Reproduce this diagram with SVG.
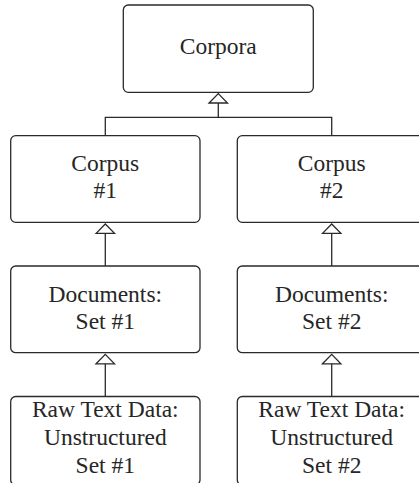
<svg xmlns="http://www.w3.org/2000/svg" width="419" height="483" viewBox="0 0 419 483">
  <defs>
    <style>
      .box { fill: #ffffff; stroke: #2a2a2a; stroke-width: 1.3; }
      .wire { fill: none; stroke: #2a2a2a; stroke-width: 1.3; }
    </style>
    <marker id="open-tri" markerUnits="userSpaceOnUse" viewBox="-1 -11 12 22" refX="9.4" refY="0" markerWidth="12" markerHeight="22" orient="auto" overflow="visible">
      <path d="M0,-9.2 L9.4,0 L0,9.2 Z" fill="#ffffff" stroke="#2a2a2a" stroke-width="1.3" stroke-linejoin="miter"/>
    </marker>
  </defs>

  <rect width="419" height="483" fill="#ffffff"/>

  <g id="connectors">
    <path class="wire" d="M105.3 135.7 V117.3 H331.7 V135.7"/>
    <path class="wire" d="M218.3 117.3 V93.6" marker-end="url(#open-tri)"/>
    <path class="wire" d="M105.3 266 V224" marker-end="url(#open-tri)"/>
    <path class="wire" d="M331.7 266 V224" marker-end="url(#open-tri)"/>
    <path class="wire" d="M105.3 396.5 V354.4" marker-end="url(#open-tri)"/>
    <path class="wire" d="M331.7 396.5 V354.4" marker-end="url(#open-tri)"/>
  </g>

  <g id="corpora">
    <rect class="box" x="123.3" y="5" width="190" height="87.3" rx="5"/>
    <text x="218.3" y="54" font-family="Liberation Serif, serif" font-size="23.5" fill="#262626" text-anchor="middle">Corpora</text>
  </g>

  <g id="corpus-1">
    <rect class="box" x="10.7" y="135.7" width="189.3" height="86.6" rx="5"/>
    <text x="105.3" y="170.7" font-family="Liberation Serif, serif" font-size="23.5" fill="#262626" text-anchor="middle">Corpus</text>
    <text x="105.3" y="198.3" font-family="Liberation Serif, serif" font-size="23.5" fill="#262626" text-anchor="middle">#1</text>
  </g>

  <g id="corpus-2">
    <rect class="box" x="237.3" y="135.7" width="189.3" height="86.6" rx="5"/>
    <text x="331.7" y="170.7" font-family="Liberation Serif, serif" font-size="23.5" fill="#262626" text-anchor="middle">Corpus</text>
    <text x="331.7" y="198.3" font-family="Liberation Serif, serif" font-size="23.5" fill="#262626" text-anchor="middle">#2</text>
  </g>

  <g id="documents-1">
    <rect class="box" x="10.7" y="266" width="189.3" height="86.7" rx="5"/>
    <text x="105.3" y="301.5" font-family="Liberation Serif, serif" font-size="23.5" fill="#262626" text-anchor="middle">Documents:</text>
    <text x="105.3" y="329" font-family="Liberation Serif, serif" font-size="23.5" fill="#262626" text-anchor="middle">Set #1</text>
  </g>

  <g id="documents-2">
    <rect class="box" x="237.3" y="266" width="189.3" height="86.7" rx="5"/>
    <text x="331.7" y="301.5" font-family="Liberation Serif, serif" font-size="23.5" fill="#262626" text-anchor="middle">Documents:</text>
    <text x="331.7" y="329" font-family="Liberation Serif, serif" font-size="23.5" fill="#262626" text-anchor="middle">Set #2</text>
  </g>

  <g id="raw-1">
    <rect class="box" x="10.7" y="396.5" width="189.3" height="88.5" rx="5"/>
    <text x="105.3" y="417.3" font-family="Liberation Serif, serif" font-size="23.5" fill="#262626" text-anchor="middle">Raw Text Data:</text>
    <text x="105.3" y="445" font-family="Liberation Serif, serif" font-size="23.5" fill="#262626" text-anchor="middle">Unstructured</text>
    <text x="105.3" y="473" font-family="Liberation Serif, serif" font-size="23.5" fill="#262626" text-anchor="middle">Set #1</text>
  </g>

  <g id="raw-2">
    <rect class="box" x="237.3" y="396.5" width="189.3" height="88.5" rx="5"/>
    <text x="331.7" y="417.3" font-family="Liberation Serif, serif" font-size="23.5" fill="#262626" text-anchor="middle">Raw Text Data:</text>
    <text x="331.7" y="445" font-family="Liberation Serif, serif" font-size="23.5" fill="#262626" text-anchor="middle">Unstructured</text>
    <text x="331.7" y="473" font-family="Liberation Serif, serif" font-size="23.5" fill="#262626" text-anchor="middle">Set #2</text>
  </g>
</svg>
